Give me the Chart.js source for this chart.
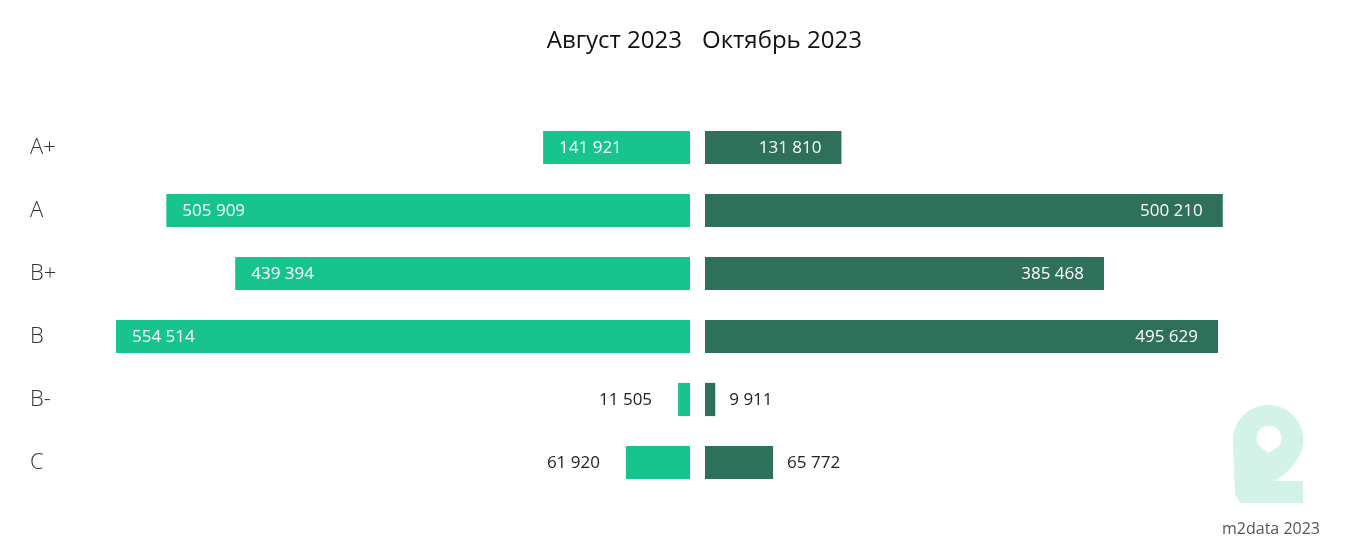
<!DOCTYPE html>
<html lang="ru">
<head>
<meta charset="utf-8">
<script src="https://cdn.jsdelivr.net/npm/chart.js@4.4.0/dist/chart.umd.min.js"></script>
<style>
  html, body { margin: 0; padding: 0; background: #fff; }
  #wrap { position: relative; width: 1350px; height: 559px; overflow: hidden; font-family: 'Open Sans', sans-serif; }
  #leftBox  { position: absolute; left: 0;     top: 0; width: 690px; height: 559px; }
  #rightBox { position: absolute; left: 705px; top: 0; width: 645px; height: 559px; }
  .ttl { position: absolute; top: 22px; font-size: 24px; color: #111; white-space: nowrap; }
  #ttlL { right: 668px; }
  #ttlR { left: 702px; }
  #logo { position: absolute; left: 1233px; top: 405px; }
  #mark { position: absolute; left: 1222px; top: 517px; font-size: 16px; color: #555; }
</style>
</head>
<body>
<div id="wrap">
  <div id="leftBox"><canvas id="cLeft"></canvas></div>
  <div id="rightBox"><canvas id="cRight"></canvas></div>
  <div class="ttl" id="ttlL">Август 2023</div>
  <div class="ttl" id="ttlR">Октябрь 2023</div>
  <svg id="logo" width="72" height="100" viewBox="0 0 72 100">
    <path fill="#d3f3e8" d="M35 0 A35 35 0 0 1 67 50 Q 59 66 41 76 L 70 76 L 70 98 L 8 98 L 2 90 L 0 35 A35 35 0 0 1 35 0 Z"/>
    <path fill="#fff" d="M36 48 L 27 42 A 12.5 12.5 0 1 1 45 42 Z"/>
  </svg>
  <div id="mark">m2data 2023</div>
</div>
<script>
// === DATA ===
const CATEGORIES = ['A+', 'A', 'B+', 'B', 'B-', 'C'];
const AUG_2023   = [141921, 505909, 439394, 554514, 11505, 61920];
const OCT_2023   = [131810, 500210, 385468, 495629, 9911, 65772];

// === STYLE ===
const LIGHT = '#17c48d';
const DARK  = '#2e705a';
const X_MAX = 570000;
const FONT  = "'Open Sans', sans-serif";

function fmt(n){ return String(n).replace(/\B(?=(\d{3})+(?!\d))/g, ' '); }

// подписи значений: внутри бара (белым) или снаружи (тёмным)
function valueLabels(side){
  return {
    id: 'valueLabels',
    afterDatasetsDraw(chart){
      const { ctx } = chart;
      const meta = chart.getDatasetMeta(0);
      const vals = chart.data.datasets[0].data;
      ctx.save();
      ctx.font = '17px ' + FONT;
      ctx.textBaseline = 'middle';
      meta.data.forEach((bar, i) => {
        const txt = fmt(vals[i]);
        const tw  = ctx.measureText(txt).width;
        const w   = Math.abs(bar.x - bar.base);
        const inside = w > tw + 34;
        const y = bar.y + 1;
        if (side === 'left'){
          if (inside){ ctx.fillStyle = '#fff'; ctx.textAlign = 'left';  ctx.fillText(txt, bar.x + 16, y); }
          else       { ctx.fillStyle = '#222'; ctx.textAlign = 'right'; ctx.fillText(txt, bar.x - 26, y); }
        } else {
          if (inside){ ctx.fillStyle = '#fff'; ctx.textAlign = 'right'; ctx.fillText(txt, bar.x - 20, y); }
          else       { ctx.fillStyle = '#222'; ctx.textAlign = 'left';  ctx.fillText(txt, bar.x + 14, y); }
        }
      });
      ctx.restore();
    }
  };
}

function makeChart(canvas, values, color, side){
  const isLeft = side === 'left';
  return new Chart(canvas.getContext('2d'), {
    type: 'bar',
    data: {
      labels: CATEGORIES,
      datasets: [{
        data: values,
        backgroundColor: color,
        borderWidth: 0,
        barPercentage: 0.85,
        categoryPercentage: 0.62
      }]
    },
    options: {
      indexAxis: 'y',
      responsive: true,
      maintainAspectRatio: false,
      animation: false,
      layout: { padding: { top: 116, bottom: 65, left: isLeft ? 30 : 0, right: isLeft ? 0 : 55 } },
      plugins: { legend: { display: false }, tooltip: { enabled: false }, title: { display: false } },
      scales: {
        x: { display: false, min: 0, max: X_MAX, reverse: isLeft },
        y: {
          display: isLeft,
          grid: { display: false },
          border: { display: false },
          ticks: {
            crossAlign: 'far',
            color: '#333',
            padding: 0,
            font: { family: FONT, size: 22, weight: 300 }
          },
          afterFit(scale){ scale.width = isLeft ? 70 : 0; }
        }
      }
    },
    plugins: [valueLabels(side)]
  });
}

makeChart(document.getElementById('cLeft'),  AUG_2023, LIGHT, 'left');
makeChart(document.getElementById('cRight'), OCT_2023, DARK,  'right');
</script>
</body>
</html>
